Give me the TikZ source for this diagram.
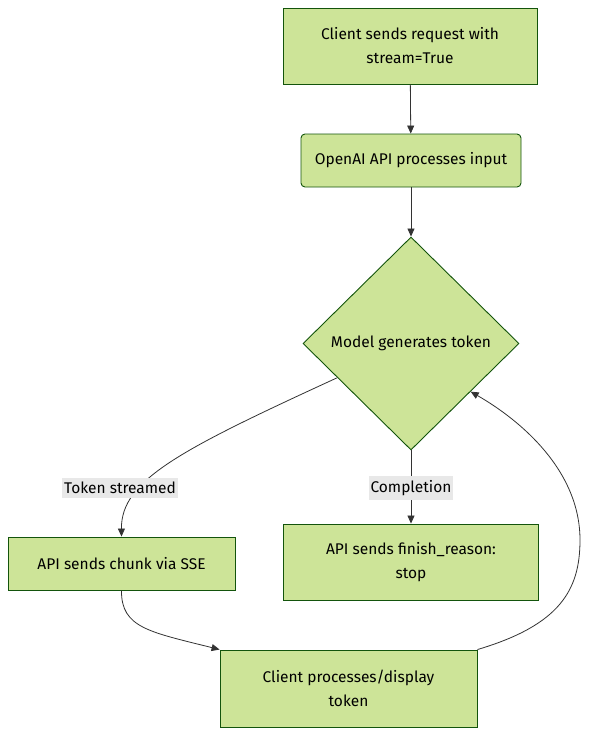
\documentclass[tikz,border=0pt]{standalone}
\usepackage{fontspec}
\setmainfont{Fira Sans}
\usetikzlibrary{calc,shapes.geometric,arrows.meta}
\definecolor{boxfill}{HTML}{CDE498}
\definecolor{boxline}{HTML}{13540C}
\definecolor{labelbg}{HTML}{E8E8E8}
\definecolor{edgecol}{HTML}{333333}

\begin{document}
\begin{tikzpicture}[x=1pt,y=-1pt]
\tikzstyle{block}=[draw=boxline,fill=boxfill,line width=0.9pt,align=center,inner sep=0pt,font=\fontsize{15.5}{24}\selectfont]
\tikzstyle{decision}=[block,diamond,minimum width=216pt,minimum height=213pt]
\tikzstyle{edgelabel}=[fill=labelbg,inner xsep=2pt,inner ysep=4pt,font=\fontsize{15.5}{18}\selectfont]
\tikzstyle{flow}=[draw=edgecol,line width=0.8pt,-{Triangle[length=8pt,width=7pt]}]

\useasboundingbox (0,0) rectangle (590,745);

% ========= boxes
\node (request) [block, minimum width=254pt, minimum height=76pt] at(410,46) {Client sends request with\\stream=True};
\node (process) [block, rounded corners=4pt, minimum width=220pt, minimum height=53pt] at(411,160.5) {OpenAI API processes input};
\node (model) [decision] at(411,343.5) {Model generates token};
\node (chunk) [block, minimum width=227pt, minimum height=53pt] at(121.5,563.5) {API sends chunk via SSE};
\node (finish) [block, minimum width=255pt, minimum height=76pt] at(411,562) {API sends finish\_reason:\\stop};
\node (client) [block, minimum width=257pt, minimum height=77pt] at(348.5,688.5) {Client processes/display\\token};

% ====== connections
\draw [flow] (request) -- (process);
\draw [flow] (process) -- (model);
\coordinate (streamstart) at ($(model.west)!0.32!(model.south)$);
\draw [flow] (streamstart) .. controls (180,450) and (121,480) .. (chunk.north);
\draw [flow] (model.south) -- (finish.north);
\draw [flow] (chunk.south) .. controls (121,628) and (150,632) .. (client.north west);
\coordinate (loopback) at ($(model.east)!0.45!(model.south)$);
\draw [flow] (client.north east) .. controls (560,625) and (580,590) .. (580,540) .. controls (580,470) and (520,420) .. (loopback);

%% ===== labels
\node (streamed) [edgelabel] at(120,488) {Token streamed};
\node (completion) [edgelabel] at(411,488) {Completion};
\end{tikzpicture}
\end{document}
